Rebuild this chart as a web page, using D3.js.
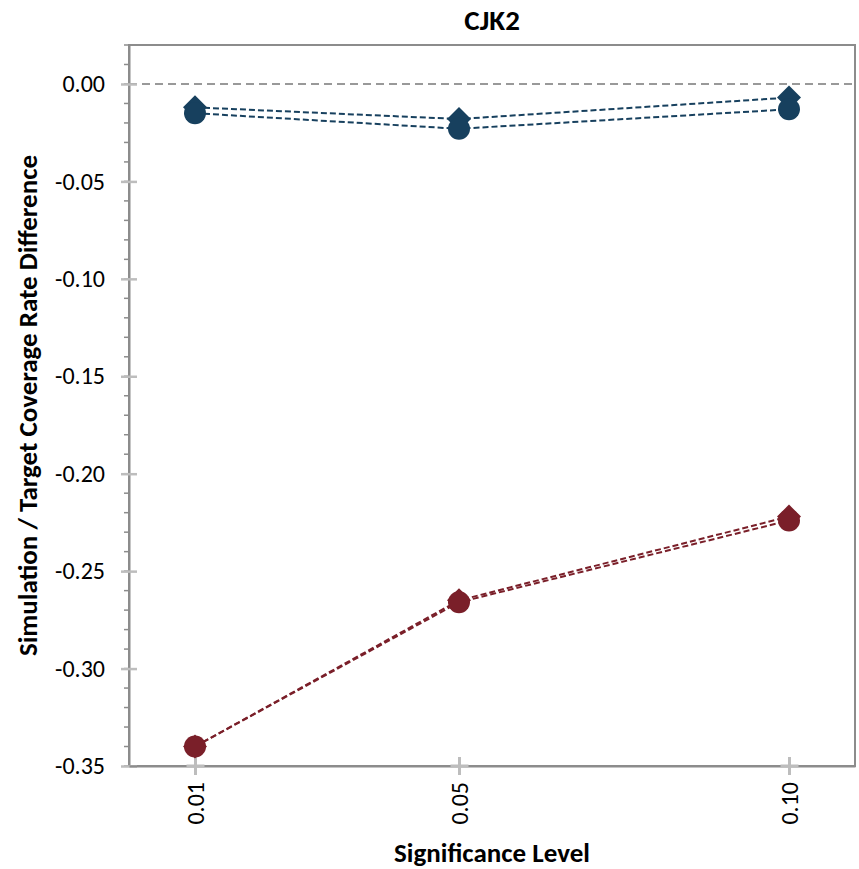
<!DOCTYPE html>
<html><head><meta charset="utf-8">
<script src="https://cdn.jsdelivr.net/npm/d3@7"></script>
<style>
body{margin:0;background:#fff;}
text{font-family:Calibri, Carlito, Lato, "Open Sans", sans-serif;}
</style></head>
<body><svg id="c" width="859" height="869"></svg>
<script>
const chartTitle = "CJK2";
const xTitle = "Significance Level";
const yTitle = "Simulation / Target Coverage Rate Difference";
const levels = [0.01, 0.05, 0.10];
const levelLabels = ["0.01", "0.05", "0.10"];
const blueDiamond = [-0.012, -0.018, -0.007];
const blueCircle = [-0.015, -0.023, -0.013];
const redDiamond = [-0.340, -0.265, -0.222];
const redCircle = [-0.340, -0.266, -0.224];
const yMajorTicks = [0.00, -0.05, -0.10, -0.15, -0.20, -0.25, -0.30, -0.35];

const svg = d3.select("#c");
const L = 129, R = 855, T = 45, B = 766;
const x = d3.scaleLinear().domain([0, 0.11]).range([L, R]);
const y = d3.scaleLinear().domain([-0.35, 0.02]).range([B, T]);

// frame
svg.append("rect").attr("x", L).attr("y", T).attr("width", R - L).attr("height", B - T)
  .attr("fill", "none").attr("stroke", "#8c8c8c").attr("stroke-width", 2);

// zero reference line
svg.append("line").attr("x1", L).attr("x2", R).attr("y1", y(0)).attr("y2", y(0))
  .attr("stroke", "#999").attr("stroke-width", 2).attr("stroke-dasharray", "8,5");

// minor y ticks
const minor = d3.range(-35, 3).map(d => d / 100);
svg.append("g").selectAll("line").data(minor).join("line")
  .attr("x1", L - 5).attr("x2", L).attr("y1", d => y(d)).attr("y2", d => y(d))
  .attr("stroke", "#8c8c8c").attr("stroke-width", 1.5);

// y axis with major cross ticks
const yAxis = d3.axisLeft(y).tickValues(yMajorTicks).tickFormat(d3.format(".2f")).tickSize(0).tickPadding(24);
const gy = svg.append("g").attr("transform", `translate(${L},0)`).call(yAxis);
gy.select(".domain").attr("stroke", "#8c8c8c").attr("stroke-width", 2);
gy.selectAll(".tick text").attr("font-size", 24).attr("fill", "#000").attr("font-family", "Lato").text(d => d3.format(".2f")(d).replace("−", "-"));
gy.selectAll(".tick").append("line").attr("x1", -8).attr("x2", 8).attr("stroke", "#bdbdbd").attr("stroke-width", 2.5);

// x axis
const xAxis = d3.axisBottom(x).tickValues(levels).tickFormat((d, i) => levelLabels[i]).tickSize(0);
const gx = svg.append("g").attr("transform", `translate(0,${B})`).call(xAxis);
gx.select(".domain").attr("stroke", "#8c8c8c").attr("stroke-width", 2);
gx.selectAll(".tick").append("line").attr("y1", -9).attr("y2", 9).attr("stroke", "#bdbdbd").attr("stroke-width", 3);
gx.selectAll(".tick").append("line").attr("x1", -9).attr("x2", 9).attr("stroke", "#bdbdbd").attr("stroke-width", 3);
gx.selectAll(".tick text").attr("font-size", 24).attr("fill", "#000").attr("font-family", "Lato")
  .attr("transform", "rotate(-90)").attr("text-anchor", "end").attr("dy", "0.35em").attr("x", -16).attr("y", 0);

// series
const series = [
  {vals: blueDiamond, color: "#17405e", shape: "diamond"},
  {vals: blueCircle, color: "#17405e", shape: "circle"},
  {vals: redDiamond, color: "#7a1f29", shape: "diamond"},
  {vals: redCircle, color: "#7a1f29", shape: "circle"}
];
const line = d3.line().x((d, i) => x(levels[i])).y(d => y(d));
series.forEach(s => {
  svg.append("path").attr("d", line(s.vals)).attr("fill", "none")
    .attr("stroke", s.color).attr("stroke-width", 2).attr("stroke-dasharray", "6,3");
});
const diamondPath = "M0,-12 L12,0 L0,12 L-12,0 Z";
series.filter(s => s.shape === "diamond").forEach(s => {
  svg.append("g").selectAll("path").data(s.vals).join("path")
    .attr("d", diamondPath).attr("transform", (d, i) => `translate(${x(levels[i])},${y(d)})`)
    .attr("fill", s.color);
});
series.filter(s => s.shape === "circle").forEach(s => {
  svg.append("g").selectAll("circle").data(s.vals).join("circle")
    .attr("cx", (d, i) => x(levels[i])).attr("cy", d => y(d)).attr("r", 11)
    .attr("fill", s.color);
});

// titles
svg.append("text").attr("x", (L + R) / 2).attr("y", 30).attr("text-anchor", "middle")
  .attr("font-size", 29).attr("font-weight", "bold").text(chartTitle);
svg.append("text").attr("x", (L + R) / 2).attr("y", 862).attr("text-anchor", "middle")
  .attr("font-size", 27).attr("font-weight", "bold").text(xTitle);
svg.append("text").attr("transform", `translate(37,${(T + B) / 2}) rotate(-90)`).attr("text-anchor", "middle")
  .attr("font-size", 27).attr("font-weight", "bold").text(yTitle);
</script></body></html>
